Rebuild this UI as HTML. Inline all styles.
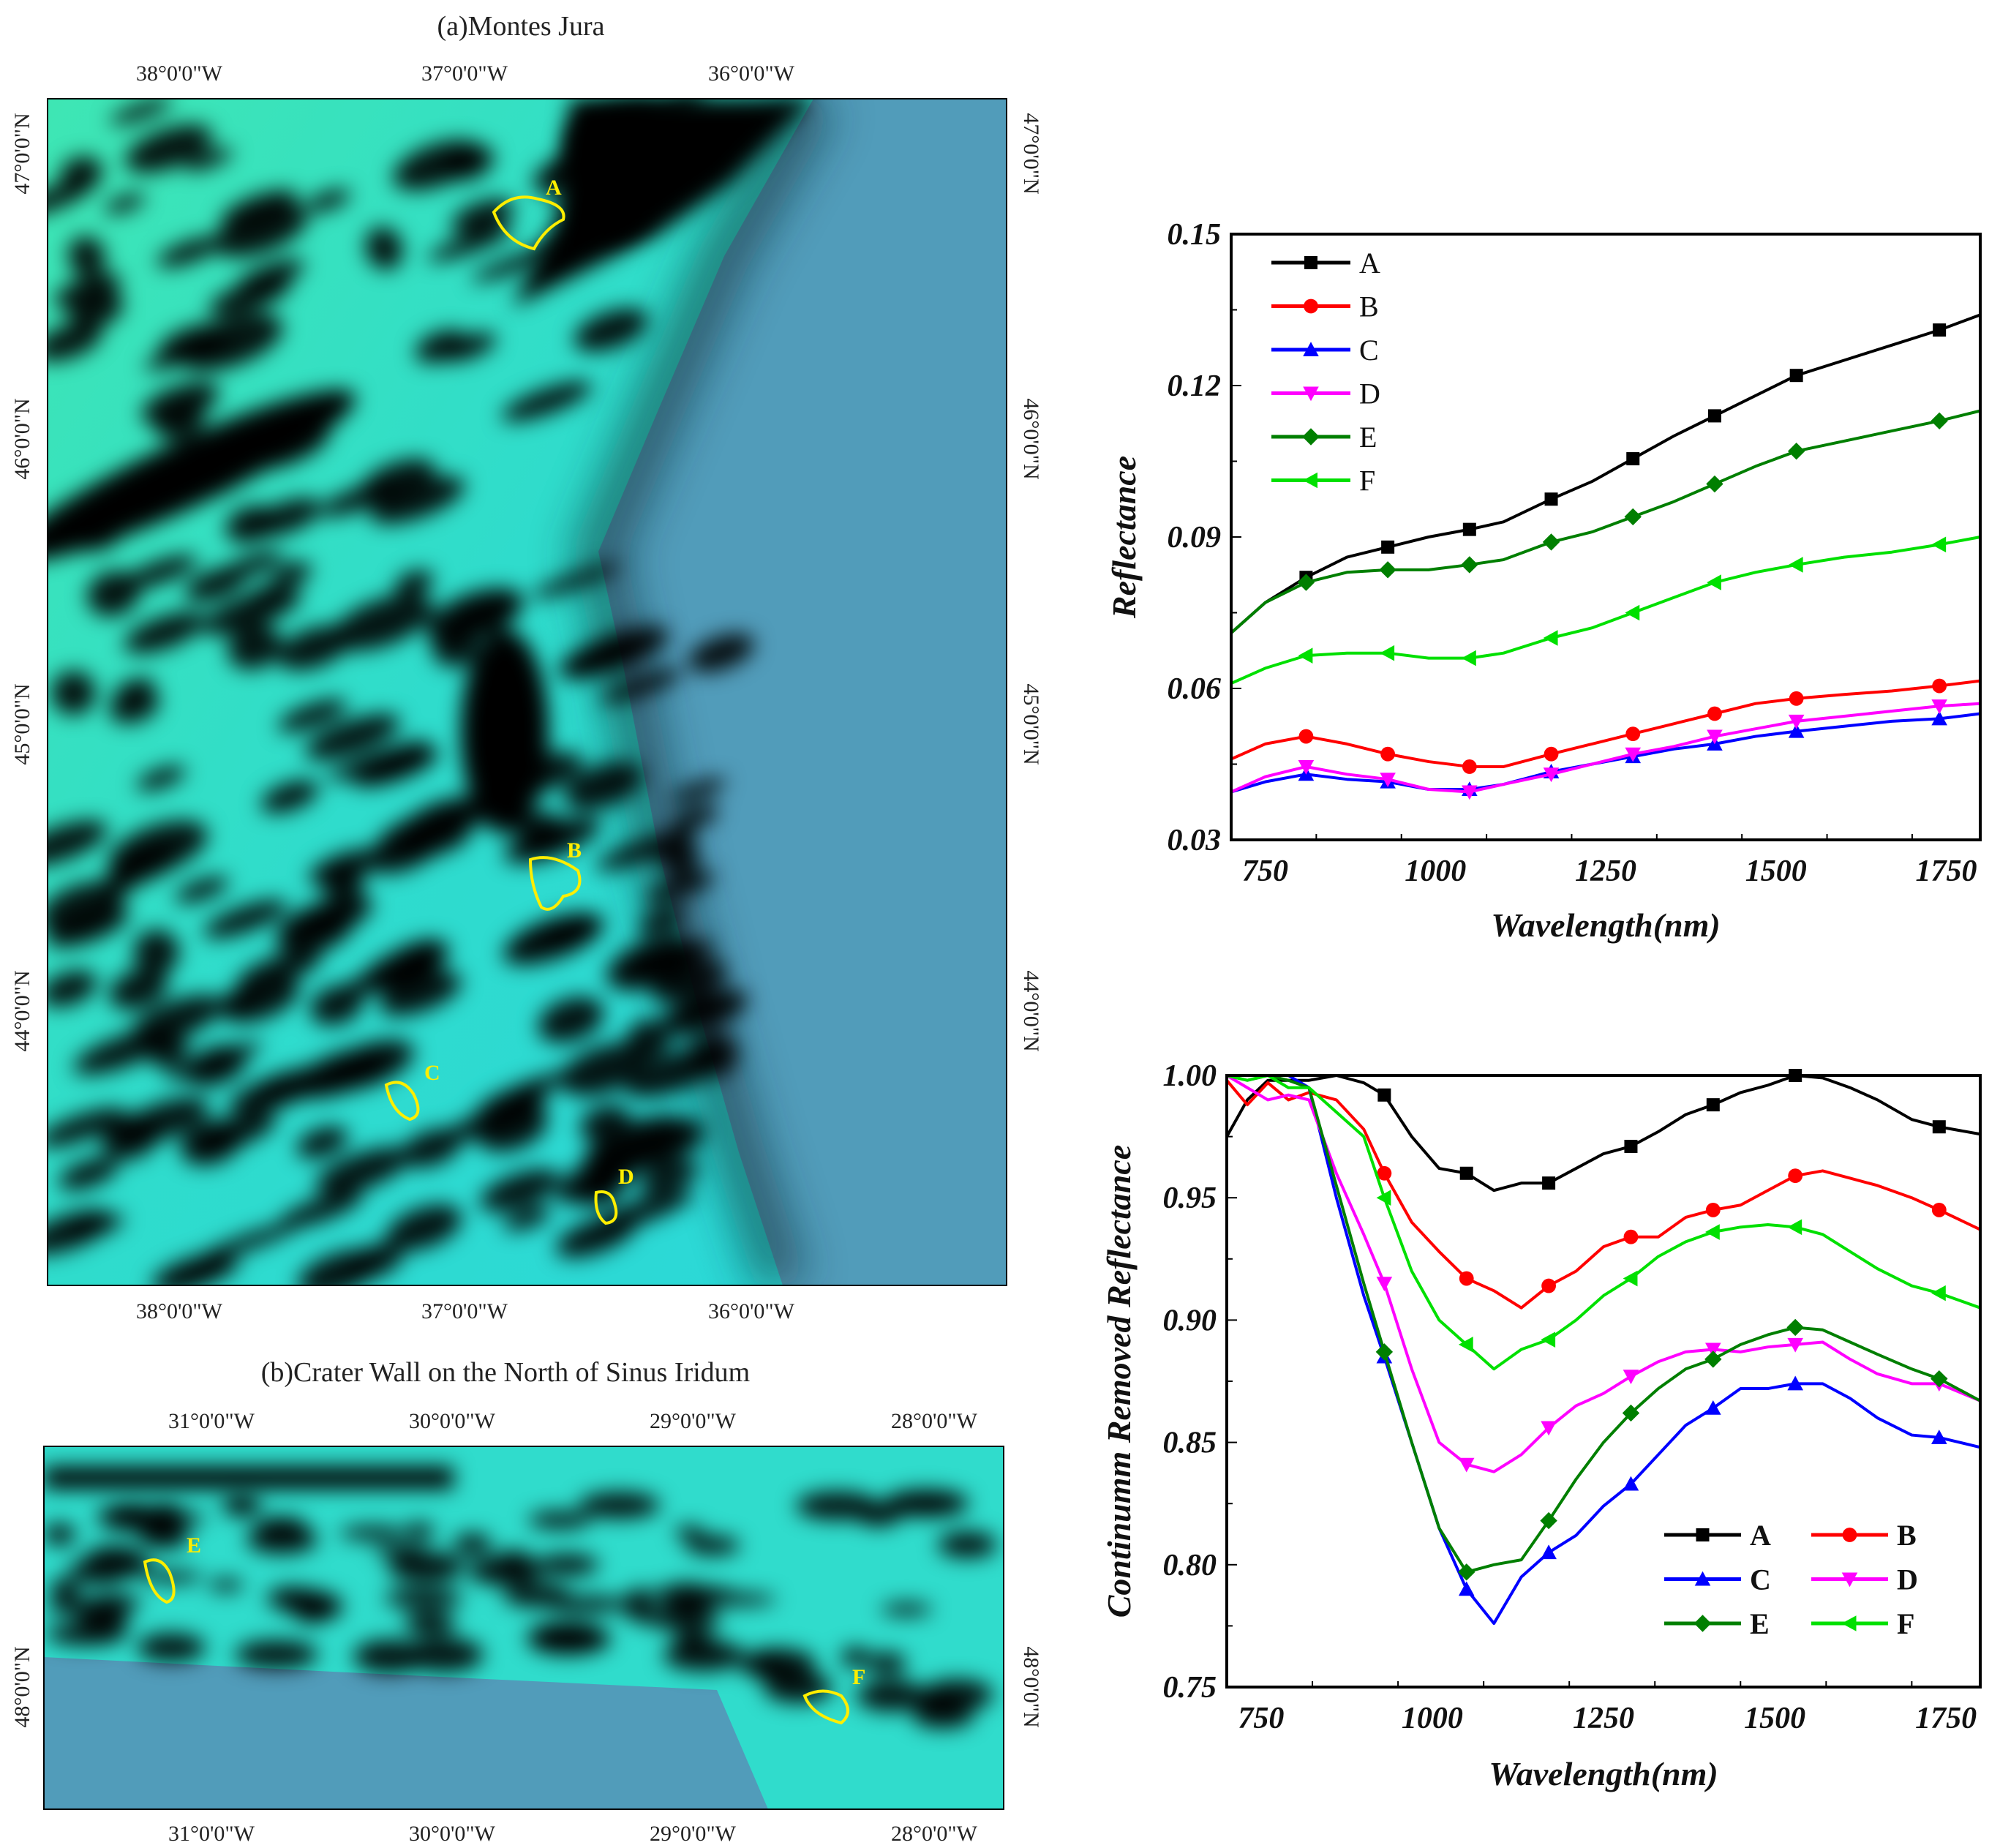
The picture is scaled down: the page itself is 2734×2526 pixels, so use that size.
<!DOCTYPE html>
<html><head><meta charset="utf-8"><style>
html,body{margin:0;padding:0;background:#fff}
svg{display:block}
.mt{font-family:"Liberation Serif",serif;font-size:30px;fill:#222}
.tt{font-family:"Liberation Serif",serif;font-size:38px;fill:#222}
.tk{font-family:"Liberation Serif",serif;font-size:42px;font-weight:bold;font-style:italic;fill:#111}
.lb{font-family:"Liberation Serif",serif;font-size:46px;font-weight:bold;font-style:italic;fill:#111}
</style></head><body>
<svg id="s" width="2734" height="2526" viewBox="0 0 2734 2526" xmlns="http://www.w3.org/2000/svg">
<defs>
<linearGradient id="gA" x1="0" y1="0" x2="1" y2="1"><stop offset="0" stop-color="#3ee6b4"/><stop offset="0.5" stop-color="#2fdccc"/><stop offset="1" stop-color="#2bd8d8"/></linearGradient>
<filter id="bl" filterUnits="userSpaceOnUse" x="0" y="0" width="2734" height="2526"><feGaussianBlur stdDeviation="14"/></filter>
<filter id="bl2" filterUnits="userSpaceOnUse" x="0" y="0" width="2734" height="2526"><feGaussianBlur stdDeviation="30"/></filter>
<clipPath id="cA"><rect x="65" y="135" width="1311" height="1622"/></clipPath>
<clipPath id="cB"><rect x="60" y="1977" width="1312" height="496"/></clipPath>
</defs>
<!-- Map A -->
<g clip-path="url(#cA)">
<rect x="65" y="135" width="1311" height="1622" fill="#519cba"/>
<polygon points="65,135 1112,135 990,350 900,560 818,754 850,900 902,1170 960,1400 1010,1575 1070,1757 65,1757" fill="url(#gA)"/>
<polyline points="1112,135 990,350 900,560 818,754 850,900 902,1170 960,1400 1010,1575 1070,1757" fill="none" stroke="#0a2a30" stroke-width="70" opacity="0.55" filter="url(#bl2)"/>
<g id="blobsA" filter="url(#bl)" fill="#000"></g>
<polygon points="780,135 1112,135 1000,250 900,320 780,380 700,420 760,300" fill="#000" filter="url(#bl)"/>
</g>
<rect x="65" y="135" width="1311" height="1622" fill="none" stroke="#000" stroke-width="2"/>
<text class="tt" x="712" y="48" text-anchor="middle">(a)Montes Jura</text>
<g>
<text class="mt" x="245" y="110" text-anchor="middle">38°0'0"W</text>
<text class="mt" x="635" y="110" text-anchor="middle">37°0'0"W</text>
<text class="mt" x="1027" y="110" text-anchor="middle">36°0'0"W</text>
<text class="mt" x="245" y="1802" text-anchor="middle">38°0'0"W</text>
<text class="mt" x="635" y="1802" text-anchor="middle">37°0'0"W</text>
<text class="mt" x="1027" y="1802" text-anchor="middle">36°0'0"W</text>
<text class="mt" transform="translate(40,210) rotate(-90)" text-anchor="middle">47°0'0"N</text>
<text class="mt" transform="translate(40,600) rotate(-90)" text-anchor="middle">46°0'0"N</text>
<text class="mt" transform="translate(40,990) rotate(-90)" text-anchor="middle">45°0'0"N</text>
<text class="mt" transform="translate(40,1382) rotate(-90)" text-anchor="middle">44°0'0"N</text>
<text class="mt" transform="translate(1400,210) rotate(90)" text-anchor="middle">47°0'0"N</text>
<text class="mt" transform="translate(1400,600) rotate(90)" text-anchor="middle">46°0'0"N</text>
<text class="mt" transform="translate(1400,990) rotate(90)" text-anchor="middle">45°0'0"N</text>
<text class="mt" transform="translate(1400,1382) rotate(90)" text-anchor="middle">44°0'0"N</text>
</g>
<g fill="none" stroke="#ffee00" stroke-width="4">
<path d="M675,290 Q700,262 735,272 Q775,280 770,300 Q745,312 730,340 Q690,330 675,290Z"/>
<path d="M725,1175 Q755,1165 790,1190 Q800,1220 770,1225 Q755,1250 740,1240 Q725,1210 725,1175Z"/>
<path d="M528,1483 Q550,1472 565,1495 Q580,1525 560,1530 Q535,1520 528,1483Z"/>
<path d="M815,1630 Q835,1625 840,1645 Q848,1670 828,1672 Q812,1660 815,1630Z"/>
</g>
<g font-family="Liberation Serif,serif" font-weight="bold" font-size="30" fill="#ffee00">
<text x="746" y="266">A</text><text x="775" y="1172">B</text><text x="580" y="1476">C</text><text x="845" y="1618">D</text>
</g>
<!-- Map B -->
<g clip-path="url(#cB)">
<rect x="60" y="1977" width="1312" height="496" fill="#519cba"/>
<polygon points="60,1977 1372,1977 1372,2473 1050,2473 980,2310 455,2285 60,2265" fill="#30dccc"/>
<g id="blobsB" filter="url(#bl)" fill="#000"></g>
<rect x="60" y="2005" width="560" height="30" fill="#000" filter="url(#bl)"/>
</g>
<rect x="60" y="1977" width="1312" height="496" fill="none" stroke="#000" stroke-width="2"/>
<text class="tt" x="691" y="1888" text-anchor="middle">(b)Crater Wall on the North of Sinus Iridum</text>
<g>
<text class="mt" x="289" y="1952" text-anchor="middle">31°0'0"W</text>
<text class="mt" x="618" y="1952" text-anchor="middle">30°0'0"W</text>
<text class="mt" x="947" y="1952" text-anchor="middle">29°0'0"W</text>
<text class="mt" x="1277" y="1952" text-anchor="middle">28°0'0"W</text>
<text class="mt" x="289" y="2516" text-anchor="middle">31°0'0"W</text>
<text class="mt" x="618" y="2516" text-anchor="middle">30°0'0"W</text>
<text class="mt" x="947" y="2516" text-anchor="middle">29°0'0"W</text>
<text class="mt" x="1277" y="2516" text-anchor="middle">28°0'0"W</text>
<text class="mt" transform="translate(40,2306) rotate(-90)" text-anchor="middle">48°0'0"N</text>
<text class="mt" transform="translate(1400,2306) rotate(90)" text-anchor="middle">48°0'0"N</text>
</g>
<g fill="none" stroke="#ffee00" stroke-width="4">
<path d="M198,2135 Q220,2125 232,2150 Q245,2185 228,2190 Q205,2180 198,2135Z"/>
<path d="M1100,2318 Q1125,2305 1150,2318 Q1168,2340 1150,2355 Q1110,2345 1100,2318Z"/>
</g>
<g font-family="Liberation Serif,serif" font-weight="bold" font-size="30" fill="#ffee00">
<text x="255" y="2122">E</text><text x="1165" y="2302">F</text>
</g>
<g id="c1"></g>
<g id="c2"></g>
</svg>
<script>
const NS='http://www.w3.org/2000/svg';
const names=['A','B','C','D','E','F'];
const colors=['#000000','#ff0000','#0000ff','#ff00ff','#007f00','#00e000'];
const wl1=[700,750,810,870,930,990,1050,1100,1170,1230,1290,1350,1410,1470,1530,1600,1670,1740,1800];
const r1A=[0.071,0.077,0.082,0.086,0.088,0.090,0.0915,0.093,0.0975,0.101,0.1055,0.110,0.114,0.118,0.122,0.125,0.128,0.131,0.134];
const r1B=[0.046,0.049,0.0505,0.049,0.047,0.0455,0.0445,0.0445,0.047,0.049,0.051,0.053,0.055,0.057,0.058,0.0588,0.0595,0.0605,0.0615];
const r1C=[0.0395,0.0415,0.043,0.042,0.0415,0.040,0.040,0.041,0.0435,0.045,0.0465,0.048,0.049,0.0505,0.0515,0.0525,0.0535,0.054,0.055];
const r1D=[0.0395,0.0425,0.0445,0.043,0.042,0.040,0.0395,0.041,0.043,0.045,0.047,0.0485,0.0505,0.052,0.0535,0.0545,0.0555,0.0565,0.057];
const r1E=[0.071,0.077,0.081,0.083,0.0835,0.0835,0.0845,0.0855,0.089,0.091,0.094,0.097,0.1005,0.104,0.107,0.109,0.111,0.113,0.115];
const r1F=[0.061,0.064,0.0665,0.067,0.067,0.066,0.066,0.067,0.070,0.072,0.075,0.078,0.081,0.083,0.0845,0.086,0.087,0.0885,0.090];
const mk1=[2,4,6,8,10,12,14,17];
const wl2=[700,730,760,790,820,860,900,930,970,1010,1050,1090,1130,1170,1210,1250,1290,1330,1370,1410,1450,1490,1530,1570,1610,1650,1700,1740,1800];
const r2A=[0.975,0.99,0.998,0.998,0.998,1.0,0.997,0.992,0.975,0.962,0.96,0.953,0.956,0.956,0.962,0.968,0.971,0.977,0.984,0.988,0.993,0.996,1.0,0.999,0.995,0.99,0.982,0.979,0.976];
const r2B=[0.998,0.988,0.997,0.99,0.993,0.99,0.978,0.96,0.94,0.928,0.917,0.912,0.905,0.914,0.92,0.93,0.934,0.934,0.942,0.945,0.947,0.953,0.959,0.961,0.958,0.955,0.95,0.945,0.937];
const r2C=[1.0,1.0,1.0,1.0,0.995,0.95,0.91,0.885,0.85,0.815,0.79,0.776,0.795,0.805,0.812,0.824,0.833,0.845,0.857,0.864,0.872,0.872,0.874,0.874,0.868,0.86,0.853,0.852,0.848];
const r2D=[1.0,0.995,0.99,0.992,0.99,0.96,0.935,0.915,0.88,0.85,0.841,0.838,0.845,0.856,0.865,0.87,0.877,0.883,0.887,0.888,0.887,0.889,0.89,0.891,0.884,0.878,0.874,0.874,0.867];
const r2E=[1.0,0.998,1.0,0.998,0.995,0.955,0.915,0.887,0.85,0.815,0.797,0.80,0.802,0.818,0.835,0.85,0.862,0.872,0.88,0.884,0.89,0.894,0.897,0.896,0.891,0.886,0.88,0.876,0.867];
const r2F=[1.0,0.998,1.0,0.995,0.995,0.985,0.975,0.95,0.92,0.9,0.89,0.88,0.888,0.892,0.9,0.91,0.917,0.926,0.932,0.936,0.938,0.939,0.938,0.935,0.928,0.921,0.914,0.911,0.905];
const mk2=[7,10,13,16,19,22,27];
const xt=[750,1000,1250,1500,1750];
const yt1=[0.03,0.06,0.09,0.12,0.15];
const yt1L=['0.03','0.06','0.09','0.12','0.15'];
const yt2=[0.75,0.80,0.85,0.90,0.95,1.00];
const yt2L=['0.75','0.80','0.85','0.90','0.95','1.00'];

function el(p,t,a){const e=document.createElementNS(NS,t);for(const k in a)e.setAttribute(k,a[k]);p.appendChild(e);return e;}
function marker(g,i,x,y,s,c){
  let m;
  if(i===0)m=el(g,'rect',{x:x-s,y:y-s,width:2*s,height:2*s,fill:c});
  else if(i===1)m=el(g,'circle',{cx:x,cy:y,r:s*1.1,fill:c});
  else if(i===2)m=el(g,'polygon',{points:`${x},${y-s*1.2} ${x-s*1.2},${y+s} ${x+s*1.2},${y+s}`,fill:c});
  else if(i===3)m=el(g,'polygon',{points:`${x},${y+s*1.2} ${x-s*1.2},${y-s} ${x+s*1.2},${y-s}`,fill:c});
  else if(i===4)m=el(g,'polygon',{points:`${x},${y-s*1.3} ${x+s*1.3},${y} ${x},${y+s*1.3} ${x-s*1.3},${y}`,fill:c});
  else m=el(g,'polygon',{points:`${x-s*1.2},${y} ${x+s},${y-s*1.2} ${x+s},${y+s*1.2}`,fill:c});
  
  
}
function chart(g,o){
  const X=v=>o.L+(v-700)/(1800-700)*(o.R-o.L);
  const Y=v=>o.B-(v-o.y0)/(o.y1-o.y0)*(o.B-o.T);
  const tg=el(g,'g',{});
  
  
  for(let v=700;v<=1800;v+=125){const x=X(v);el(tg,'line',{x1:x,y1:o.B,x2:x,y2:o.B-((v-750)%250===0?14:8),stroke:'#000','stroke-width':2});}
  xt.forEach(v=>{const t=el(tg,'text',{x:X(v),y:o.B+56,'text-anchor':'middle',class:'tk'});t.textContent=v;});
  const ys=o.yt;
  for(let k=0;k<ys.length;k++){const y=Y(ys[k]);el(tg,'line',{x1:o.L,y1:y,x2:o.L+14,y2:y,stroke:'#000','stroke-width':2});
    if(k<ys.length-1){const ym=Y((ys[k]+ys[k+1])/2);el(tg,'line',{x1:o.L,y1:ym,x2:o.L+8,y2:ym,stroke:'#000','stroke-width':2});}
    const t=el(tg,'text',{x:o.L-14,y:y+14,'text-anchor':'end',class:'tk'});t.textContent=o.ytl[k];}
  const xl=el(g,'text',{x:(o.L+o.R)/2,y:o.xly,'text-anchor':'middle',class:'lb'});xl.textContent='Wavelength(nm)';
  
  
  const yl=el(g,'text',{transform:`translate(${o.ylx},${(o.T+o.B)/2}) rotate(-90)`,'text-anchor':'middle',class:'lb'});yl.textContent=o.ylab;
  
  
  o.series.forEach((d,i)=>{
    const sg=el(g,'g',{});
    
    
    el(sg,'polyline',{points:o.wl.map((w,j)=>X(w)+','+Y(d[j])).join(' '),fill:'none',stroke:colors[i],'stroke-width':4,'stroke-linejoin':'round'});
    o.mk.forEach(j=>marker(sg,i,X(o.wl[j]),Y(d[j]),9,colors[i]));
  });
  const lg=el(g,'g',{});
  
  
  names.forEach((n,i)=>{
    const p=o.leg(i);
    const eg=el(lg,'g',{});
    
    
    el(eg,'line',{x1:p[0],y1:p[1],x2:p[0]+o.lw,y2:p[1],stroke:colors[i],'stroke-width':5});
    marker(eg,i,p[0]+o.lw/2,p[1],9,colors[i]);
    const t=el(eg,'text',{x:p[0]+o.lw+12,y:p[1]+14,'font-family':'Liberation Serif,serif','font-size':40,'font-weight':o.lb?'bold':'normal',fill:'#111'});t.textContent=n;
  });
  el(g,'rect',{x:o.L,y:o.T,width:o.R-o.L,height:o.B-o.T,fill:'none',stroke:'#000','stroke-width':4});
}
chart(document.getElementById('c1'),{L:1683,R:2707,T:320,B:1148,y0:0.03,y1:0.15,yt:yt1,ytl:yt1L,xly:1280,ylx:1552,ylab:'Reflectance',
  series:[r1A,r1B,r1C,r1D,r1E,r1F],wl:wl1,mk:mk1,lw:108,lb:false,leg:i=>[1738,359+i*59.5]});
chart(document.getElementById('c2'),{L:1677,R:2707,T:1470,B:2306,y0:0.75,y1:1.0,yt:yt2,ytl:yt2L,xly:2440,ylx:1545,ylab:'Continumm Removed Reflectance',
  series:[r2A,r2B,r2C,r2D,r2E,r2F],wl:wl2,mk:mk2,lw:105,lb:true,leg:i=>[2275+(i%2)*201,2098+Math.floor(i/2)*60.5]});
// map texture blobs (decorative)
let seed=7;function rnd(){seed=(seed*16807)%2147483647;return seed/2147483647;}
const ga=document.getElementById('blobsA');
for(let k=0;k<170;k++){const y=150+rnd()*1600;const maxx=y<400?1000:y<800?860:1000;const x=70+rnd()*(maxx-70);
  el(ga,'ellipse',{cx:x,cy:y,rx:25+rnd()*50,ry:10+rnd()*22,transform:`rotate(-20 ${x} ${y})`,opacity:0.9});}
el(ga,'ellipse',{cx:250,cy:650,rx:260,ry:45,transform:'rotate(-25 250 650)'});
el(ga,'ellipse',{cx:690,cy:1000,rx:60,ry:140});
const gb=document.getElementById('blobsB');
for(let k=0;k<70;k++){const x=70+rnd()*1290;const y=2050+rnd()*(x>1000?400:220);
  el(gb,'ellipse',{cx:x,cy:y,rx:20+rnd()*40,ry:8+rnd()*16,opacity:0.9});}
</script>
</body></html>
